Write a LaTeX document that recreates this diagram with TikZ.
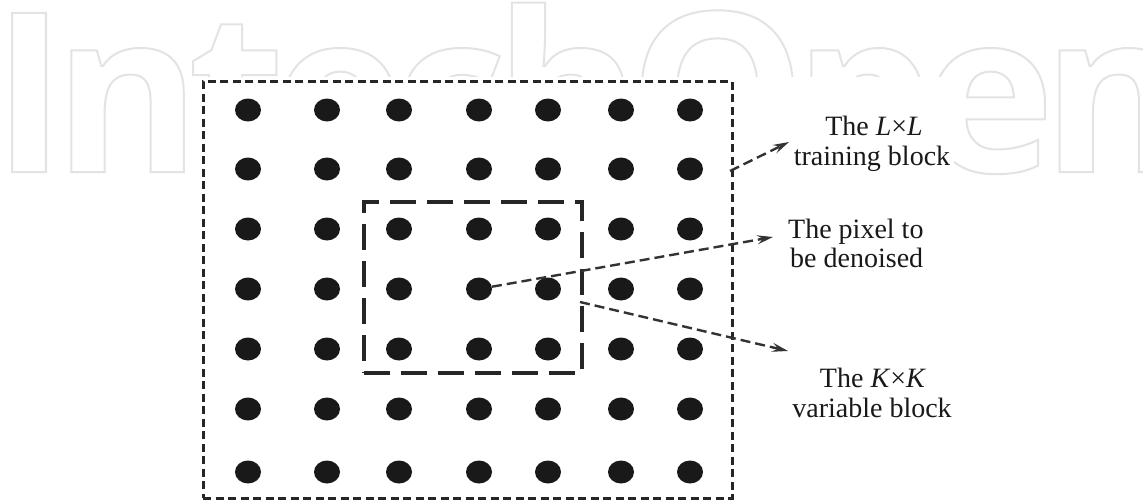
\documentclass[tikz,border=0pt]{standalone}
\usepackage{fontspec}
\setmainfont{Liberation Serif}
\newfontfamily\wmfont[LetterSpace=-5.5]{Open Sans}
\usetikzlibrary{arrows.meta,shapes.geometric}
\begin{document}
\begin{tikzpicture}[x=1pt,y=-1pt,
  dot/.style={ellipse,fill=black!90,inner sep=0pt,minimum width=26pt,minimum height=23pt},
  outerbox/.style={draw=black!85,line width=3pt,dash pattern=on 8pt off 4.5pt,inner sep=0pt},
  innerbox/.style={draw=black!85,line width=4pt,dash pattern=on 26pt off 11pt,inner sep=0pt},
  conn/.style={draw=black!80,line width=2.4pt,dash pattern=on 10pt off 5pt,-{Stealth[length=16pt,width=9pt,inset=6pt]}},
  lab/.style={font=\fontsize{28}{30}\selectfont,inner sep=0pt,text=black!90},
  wm/.style={anchor=base west,inner sep=0pt,text=black!11,font=\wmfont\bfseries\fontsize{223}{223}\selectfont}]
\fill[white] (0,0) rectangle (1143,501);
\useasboundingbox (0,0) rectangle (1143,501);
% watermark
\node[wm] (wm) at (-8,172) {\special{pdf:literal direct 1 Tr 2 w}IntechOpen\special{pdf:literal direct 0 Tr}};
\fill[white] (207,77) rectangle (954,501);
% boxes
\node[outerbox,minimum width=529pt,minimum height=417pt] (outer) at (467.5,289.5) {};
\node[innerbox,minimum width=218pt,minimum height=171pt] (inner) at (473,287.5) {};
% dots
\foreach \r/\y in {1/110,2/169,3/229,4/289,5/349,6/409,7/472}{
  \foreach \c/\x in {1/248,2/327,3/399,4/479,5/548,6/621,7/690}{
    \node[dot] (d\r\c) at (\x,\y) {};
  }
}
% labels
\node[lab,anchor=base] (l1a) at (874,135) {The \textit{L}×\textit{L}};
\node[lab,anchor=base] (l1b) at (872,165) {training block};
\node[lab,anchor=base west] (l2a) at (788,238) {The pixel to};
\node[lab,anchor=base west] (l2b) at (790,267) {be denoised};
\node[lab,anchor=base] (l3a) at (873,387) {The \textit{K}×\textit{K}};
\node[lab,anchor=base] (l3b) at (872,417) {variable block};
% connectors
\coordinate (s1) at (730,171);
\coordinate (t1) at (789,142);
\coordinate (t2) at (773,237);
\coordinate (s3) at (580,302);
\coordinate (t3) at (788,351);
\draw[conn] (s1) -- (t1);
\draw[conn] (d44) -- (t2);
\draw[conn] (s3) -- (t3);
\end{tikzpicture}
\end{document}
